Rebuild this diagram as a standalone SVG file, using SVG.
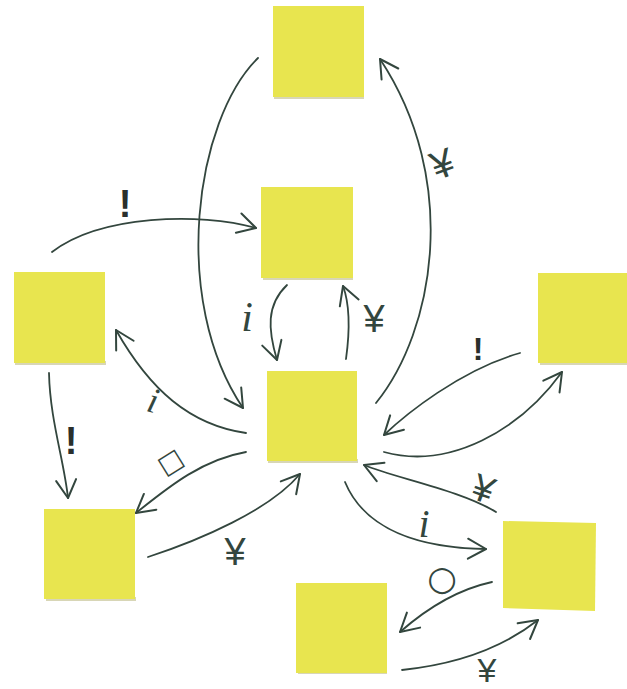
<svg xmlns="http://www.w3.org/2000/svg" width="627" height="689" viewBox="0 0 627 689">
<defs>
<marker id="ah" markerUnits="userSpaceOnUse" markerWidth="30" markerHeight="30" refX="0" refY="0" orient="auto" overflow="visible">
<path d="M-18,-10 L0,0 L-18,10" fill="none" stroke="#33463e" stroke-width="2" stroke-linecap="round" stroke-linejoin="round"/>
</marker>
</defs>
<style>
.note{fill:#e8e54f}
.shadow{fill:#b8b57a;opacity:0.55}
.c{fill:none;stroke:#33463e;stroke-width:1.8;stroke-linecap:round;marker-end:url(#ah)}
.ex{font-family:"Liberation Sans",Arial,sans-serif;font-weight:bold;fill:#2a2f2c;text-anchor:middle}
.yen{font-family:"Liberation Sans",Arial,sans-serif;fill:#33463e;text-anchor:middle}
.ii{font-family:"Liberation Serif","Times New Roman",serif;font-style:italic;fill:#33463e;text-anchor:middle}
.sym{font-family:"DejaVu Sans",sans-serif;fill:#33463e;text-anchor:middle}
</style>
<rect width="627" height="689" fill="#ffffff"/>

<g id="note-top"><rect class="shadow" x="274" y="95" width="90" height="4"/><rect class="note" x="273" y="6" width="91" height="91"/></g>
<g id="note-upper"><rect class="shadow" x="263" y="276" width="90" height="4"/><rect class="note" x="261" y="187" width="92" height="91"/></g>
<g id="note-left"><rect class="shadow" x="15" y="361" width="91" height="4"/><rect class="note" x="14" y="272" width="91" height="91"/></g>
<g id="note-center"><rect class="shadow" x="268" y="459" width="90" height="4"/><rect class="note" x="267" y="371" width="90" height="90"/></g>
<g id="note-right"><rect class="shadow" x="540" y="361" width="87" height="4"/><rect class="note" x="538" y="273" width="89" height="90"/></g>
<g id="note-bottomleft"><rect class="shadow" x="46" y="597" width="90" height="4"/><rect class="note" x="44" y="509" width="91" height="90"/></g>
<g id="note-bottomright"><polygon class="note" points="503,521 596,523 595,611 503,608"/></g>
<g id="note-bottom"><rect class="shadow" x="298" y="671" width="89" height="3"/><rect class="note" x="296" y="583" width="91" height="90"/></g>

<g id="connectors">
<g id="c-top-center"><path class="c" d="M258,58 C195,120 170,300 243,408"/></g>
<g id="c-center-top"><path class="c" d="M376,403 C435,330 460,180 380,59"/><text class="yen" font-size="40" transform="translate(447,177) rotate(-20)">¥</text></g>
<g id="c-left-upper"><path class="c" d="M52,252 C100,215 200,212 256,228"/><text class="ex" font-size="38" x="125" y="217">!</text></g>
<g id="c-upper-center"><path class="c" d="M287,285 C266,305 268,330 277,360"/><text class="ii" font-size="42" x="247" y="331">i</text></g>
<g id="c-center-upper"><path class="c" d="M346,359 C350,330 350,305 343,286"/><text class="yen" font-size="38" x="374" y="332">¥</text></g>
<g id="c-center-left"><path class="c" d="M246,433 C190,425 150,390 116,330"/><text class="ii" font-size="36" transform="translate(150,412) rotate(15)">i</text></g>
<g id="c-left-bottomleft"><path class="c" d="M49,373 C50,420 64,460 68,498"/><text class="ex" font-size="38" x="71" y="454">!</text></g>
<g id="c-center-bottomleft"><path class="c" d="M246,452 C200,460 165,490 136,513"/><text class="sym" font-size="26" transform="translate(175,469) rotate(-32)">□</text></g>
<g id="c-bottomleft-center"><path class="c" d="M148,557 C200,540 270,510 300,474"/><text class="yen" font-size="38" x="235" y="565">¥</text></g>
<g id="c-right-center"><path class="c" d="M520,353 C460,370 405,415 384,435"/><text class="ex" font-size="32" x="478" y="360">!</text></g>
<g id="c-center-right"><path class="c" d="M384,452 C450,470 520,430 562,372"/></g>
<g id="c-bottomright-center"><path class="c" d="M496,512 C460,490 395,478 364,465"/><text class="yen" font-size="38" transform="translate(479,501) rotate(20)">¥</text></g>
<g id="c-center-bottomright"><path class="c" d="M345,482 C365,530 420,548 486,549"/><text class="ii" font-size="40" x="424" y="537">i</text></g>
<g id="c-bottomright-bottom"><path class="c" d="M492,582 C455,590 425,610 400,632"/><text class="sym" font-size="34" x="442" y="590">○</text></g>
<g id="c-bottom-bottomright"><path class="c" d="M402,670 C450,665 500,650 538,620"/><text class="yen" font-size="34" x="487" y="682">¥</text></g>
</g>
</svg>
